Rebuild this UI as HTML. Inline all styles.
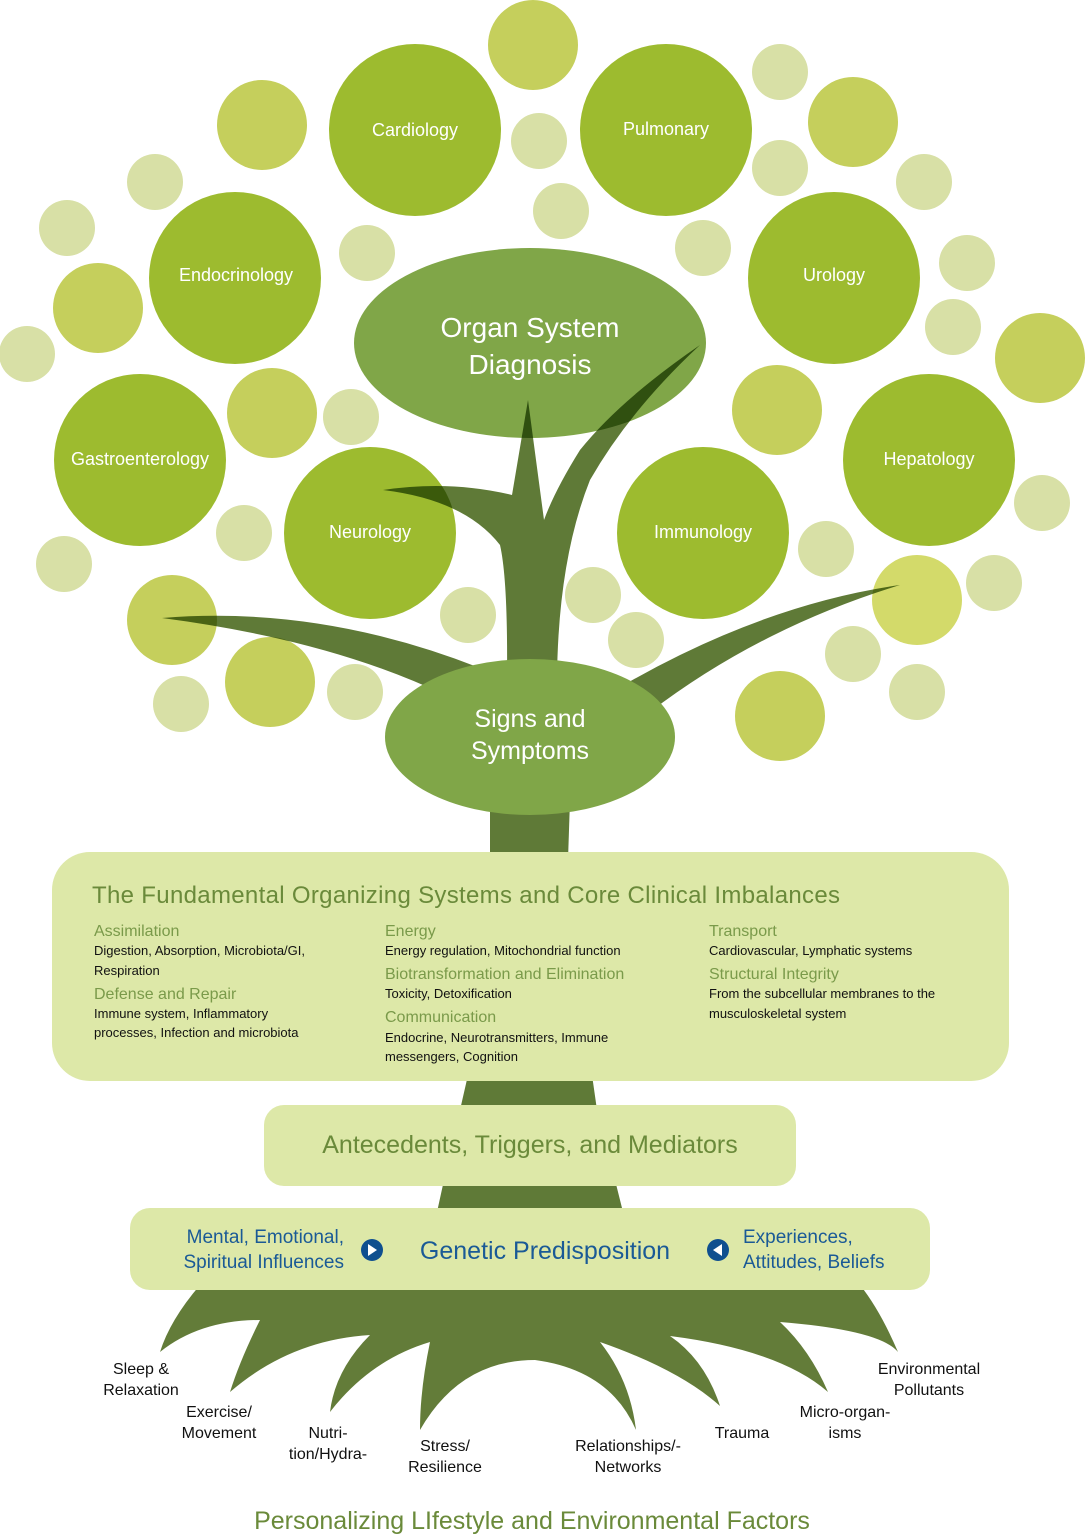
<!DOCTYPE html>
<html><head><meta charset="utf-8"><style>
html,body{margin:0;padding:0;background:#fff}
svg{display:block}
text{font-family:"Liberation Sans",sans-serif}
</style></head><body>
<svg width="1085" height="1536" viewBox="0 0 1085 1536" xmlns="http://www.w3.org/2000/svg">
<g fill="#d8e0a6">
<circle cx="780" cy="72" r="28"/><circle cx="539" cy="141" r="28"/><circle cx="155" cy="182" r="28"/><circle cx="67" cy="228" r="28"/><circle cx="367" cy="253" r="28"/><circle cx="561" cy="211" r="28"/><circle cx="703" cy="248" r="28"/><circle cx="780" cy="168" r="28"/><circle cx="924" cy="182" r="28"/><circle cx="967" cy="263" r="28"/><circle cx="953" cy="327" r="28"/><circle cx="27" cy="354" r="28"/><circle cx="351" cy="417" r="28"/><circle cx="244" cy="533" r="28"/><circle cx="64" cy="564" r="28"/><circle cx="181" cy="704" r="28"/><circle cx="355" cy="692" r="28"/><circle cx="468" cy="615" r="28"/><circle cx="593" cy="595" r="28"/><circle cx="636" cy="640" r="28"/><circle cx="826" cy="549" r="28"/><circle cx="853" cy="654" r="28"/><circle cx="917" cy="692" r="28"/><circle cx="994" cy="583" r="28"/><circle cx="1042" cy="503" r="28"/>
</g>
<g fill="#c5cf5c">
<circle cx="533" cy="45" r="45"/><circle cx="262" cy="125" r="45"/><circle cx="853" cy="122" r="45"/><circle cx="98" cy="308" r="45"/><circle cx="272" cy="413" r="45"/><circle cx="777" cy="410" r="45"/><circle cx="1040" cy="358" r="45"/><circle cx="172" cy="620" r="45"/><circle cx="270" cy="682" r="45"/><circle cx="780" cy="716" r="45"/><circle cx="917" cy="600" r="45" fill="#d3da6a"/>
</g>
<g fill="#9dbb2f">
<circle cx="415" cy="130" r="86"/><circle cx="666" cy="130" r="86"/><circle cx="235" cy="278" r="86"/><circle cx="834" cy="278" r="86"/><circle cx="140" cy="460" r="86"/><circle cx="929" cy="460" r="86"/><circle cx="370" cy="533" r="86"/><circle cx="703" cy="533" r="86"/>
</g>
<ellipse cx="530" cy="343" rx="176" ry="95" fill="#80a648"/>
<g fill="#5f7a37" style="mix-blend-mode:multiply">
<path d="M528,400 L512,495 Q450,480 383,490 Q465,500 500,545 Q508,580 507,680 L557,680 Q558,560 590,480 Q630,410 700,345 Q620,400 580,450 Q555,490 544,520 Z"/>
<path d="M162,618 Q320,605 480,668 L445,695 Q330,640 162,618 Z"/>
<path d="M900,585 Q760,605 615,690 L650,712 Q760,628 900,585 Z"/>
</g>
<path d="M490,800 L570,800 L568,860 L490,860 Z" fill="#5f7a37"/>
<path d="M468,1075 L592,1075 L597,1110 L460,1110 Z" fill="#5f7a37"/>
<path d="M444,1180 L615,1180 L623,1212 L437,1212 Z" fill="#5f7a37"/>
<ellipse cx="530" cy="737" rx="145" ry="78" fill="#80a648"/>
<path d="M200,1285 Q170,1320 160,1352 Q200,1320 260,1320 Q240,1360 230,1392 Q290,1340 370,1335 Q335,1370 330,1412 Q370,1360 430,1342 Q420,1390 420,1430 Q460,1360 535,1360 Q610,1370 636,1430 Q630,1380 600,1342 Q680,1370 720,1406 Q705,1360 670,1336 Q780,1350 828,1392 Q810,1350 780,1322 Q880,1330 898,1352 Q880,1310 860,1285 Z" fill="#637c39"/>
<rect x="52" y="852" width="957" height="229" rx="38" fill="#dde8a8"/>
<rect x="264" y="1105" width="532" height="81" rx="20" fill="#dde8a8"/>
<rect x="130" y="1208" width="800" height="82" rx="20" fill="#dde8a8"/>
<g fill="#fff" font-size="18" text-anchor="middle">
<text x="415" y="136">Cardiology</text><text x="666" y="135">Pulmonary</text><text x="236" y="281">Endocrinology</text><text x="834" y="281">Urology</text><text x="140" y="465">Gastroenterology</text><text x="929" y="465">Hepatology</text><text x="370" y="538">Neurology</text><text x="703" y="538">Immunology</text>
<text x="530" y="337" font-size="28">Organ System</text><text x="530" y="374" font-size="28">Diagnosis</text>
<text x="530" y="727" font-size="25">Signs and</text><text x="530" y="759" font-size="25">Symptoms</text>
</g>
<text x="92" y="903" font-size="24" fill="#6a8a3a" textLength="748">The Fundamental Organizing Systems and Core Clinical Imbalances</text>
<g font-size="16" fill="#7a9a4a">
<text x="94" y="936">Assimilation</text><text x="94" y="999">Defense and Repair</text>
<text x="385" y="936">Energy</text><text x="385" y="979">Biotransformation and Elimination</text><text x="385" y="1022">Communication</text>
<text x="709" y="936">Transport</text><text x="709" y="979">Structural Integrity</text>
</g>
<g font-size="13" fill="#111">
<text x="94" y="955">Digestion, Absorption, Microbiota/GI,</text><text x="94" y="975">Respiration</text>
<text x="94" y="1018">Immune system, Inflammatory</text><text x="94" y="1037">processes, Infection and microbiota</text>
<text x="385" y="955">Energy regulation, Mitochondrial function</text><text x="385" y="998">Toxicity, Detoxification</text>
<text x="385" y="1042">Endocrine, Neurotransmitters, Immune</text><text x="385" y="1061">messengers, Cognition</text>
<text x="709" y="955">Cardiovascular, Lymphatic systems</text><text x="709" y="998">From the subcellular membranes to the</text><text x="709" y="1018">musculoskeletal system</text>
</g>
<text x="530" y="1153" font-size="25" fill="#6a8a3a" text-anchor="middle">Antecedents, Triggers, and Mediators</text>
<g fill="#1a5a96" font-size="19">
<text x="344" y="1243" text-anchor="end">Mental, Emotional,</text><text x="344" y="1268" text-anchor="end">Spiritual Influences</text>
<text x="743" y="1243">Experiences,</text><text x="743" y="1268">Attitudes, Beliefs</text>
<text x="545" y="1259" font-size="25" text-anchor="middle">Genetic Predisposition</text>
</g>
<circle cx="372" cy="1250" r="11" fill="#0f4f8f"/><path d="M368,1244 L377,1250 L368,1256 Z" fill="#fff"/>
<circle cx="718" cy="1250" r="11" fill="#0f4f8f"/><path d="M722,1244 L713,1250 L722,1256 Z" fill="#fff"/>
<g font-size="16" fill="#111" text-anchor="middle">
<text x="141" y="1374">Sleep &amp;</text><text x="141" y="1395">Relaxation</text>
<text x="219" y="1417">Exercise/</text><text x="219" y="1438">Movement</text>
<text x="328" y="1438">Nutri-</text><text x="328" y="1459">tion/Hydra-</text>
<text x="445" y="1451">Stress/</text><text x="445" y="1472">Resilience</text>
<text x="628" y="1451">Relationships/-</text><text x="628" y="1472">Networks</text>
<text x="742" y="1438">Trauma</text>
<text x="845" y="1417">Micro-organ-</text><text x="845" y="1438">isms</text>
<text x="929" y="1374">Environmental</text><text x="929" y="1395">Pollutants</text>
</g>
<text x="532" y="1529" font-size="25" fill="#6a8a3a" text-anchor="middle">Personalizing LIfestyle and Environmental Factors</text>
</svg>
</body></html>
